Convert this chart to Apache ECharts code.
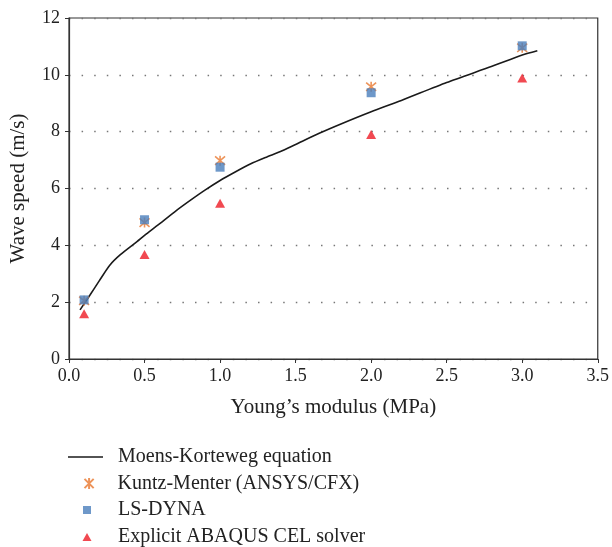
<!DOCTYPE html>
<html>
<head>
<meta charset="utf-8">
<script src="https://cdn.jsdelivr.net/npm/echarts@6/dist/echarts.min.js"></script>
<style>html,body{margin:0;padding:0;background:#fff}#c{width:612px;height:547px}</style>
</head>
<body>
<div id="c"></div>
<script>
const xTicks = [0, 0.5, 1.0, 1.5, 2.0, 2.5, 3.0, 3.5];
const yTicks = [0, 2, 4, 6, 8, 10, 12];
const mkX = [0.073,0.14,0.2,0.27,0.34,0.45,0.5,0.59,0.7,0.8,0.9,1.0,1.1,1.2,1.3,1.4,1.5,1.66,1.8,2.0,2.2,2.5,2.8,3.0,3.1];
const mkY = [1.73,2.26,2.75,3.3,3.67,4.13,4.35,4.72,5.18,5.57,5.94,6.28,6.58,6.86,7.09,7.3,7.55,7.95,8.27,8.7,9.1,9.73,10.3,10.7,10.85];
const simX = [0.1, 0.5, 1.0, 2.0, 3.0];
const kuntzY = [2.05, 4.8, 6.98, 9.58, 10.95];
const lsdynaY = [2.08, 4.9, 6.75, 9.37, 11.02];
const abaqusY = [1.59, 3.68, 5.48, 7.9, 9.89];
const names = ['Moens-Korteweg equation', 'Kuntz-Menter (ANSYS/CFX)', 'LS-DYNA', 'Explicit ABAQUS CEL solver'];

const zip = (xs, ys) => xs.map((x, i) => [x, ys[i]]);
const font = '"Liberation Serif", "DejaVu Serif", serif';
const star = 'path://M0,0L10,10M10,0L0,10M5,-1L5,11';
const legText = pad => ({fontFamily: font, fontSize: 20, lineHeight: 20, color: '#222', padding: [0, 0, 0, pad]});

const chart = echarts.init(document.getElementById('c'), null, {renderer: 'canvas'});
chart.setOption({
  animation: false,
  backgroundColor: '#fff',
  grid: {left: 69, right: 14, top: 18, bottom: 188, show: true, borderColor: '#333', borderWidth: 1.2, backgroundColor: 'transparent'},
  xAxis: {
    type: 'value', min: xTicks[0], max: xTicks[xTicks.length - 1], interval: 0.5,
    name: 'Young\u2019s modulus (MPa)', nameLocation: 'middle', nameGap: 38,
    nameTextStyle: {fontFamily: font, fontSize: 21, color: '#222'},
    axisLine: {lineStyle: {color: '#333', width: 1.2}},
    axisTick: {show: true, length: 4, lineStyle: {color: '#333'}},
    axisLabel: {fontFamily: font, fontSize: 18, color: '#222', margin: 8, formatter: v => v.toFixed(1)},
    splitLine: {show: false}
  },
  yAxis: {
    type: 'value', min: yTicks[0], max: yTicks[yTicks.length - 1], interval: 2,
    name: 'Wave speed (m/s)', nameLocation: 'middle', nameGap: 40,
    nameTextStyle: {fontFamily: font, fontSize: 21, color: '#222'},
    axisLine: {lineStyle: {color: '#333', width: 1.2}},
    axisTick: {show: true, length: 4, lineStyle: {color: '#333'}},
    axisLabel: {fontFamily: font, fontSize: 18, color: '#222', margin: 9},
    splitLine: {show: true, lineStyle: {color: '#777', width: 1.3, type: [1.5, 11.1]}}
  },
  legend: [
    {left: 68, top: 447, padding: 0, itemWidth: 35, itemHeight: 1.6, textStyle: legText(10),
     data: [{name: names[0], icon: 'rect', itemStyle: {color: '#1a1a1a'}}]},
    {left: 82, top: 473.5, padding: 0, itemWidth: 11, itemHeight: 11, textStyle: legText(18),
     data: [{name: names[1]}]},
    {left: 83, top: 500, padding: 0, itemWidth: 8, itemHeight: 8, textStyle: legText(22),
     data: [{name: names[2], icon: 'rect'}]},
    {left: 82.5, top: 527, padding: 0, itemWidth: 9, itemHeight: 8, textStyle: legText(21.5),
     data: [{name: names[3], icon: 'triangle'}]}
  ],
  series: [
    {name: names[0], type: 'line', data: zip(mkX, mkY), symbol: 'none', smooth: 0.25,
     lineStyle: {color: '#1a1a1a', width: 1.6}, itemStyle: {color: '#1a1a1a'}, z: 2},
    {name: names[1], type: 'scatter', data: zip(simX, kuntzY), symbol: star, symbolSize: 10,
     itemStyle: {color: 'none', borderColor: '#E8782F', borderWidth: 1.6}, z: 3},
    {name: names[2], type: 'scatter', data: zip(simX, lsdynaY), symbol: 'rect', symbolSize: 9,
     itemStyle: {color: '#4A7EBB'}, z: 4},
    {name: names[3], type: 'scatter', data: zip(simX, abaqusY), symbol: 'triangle', symbolSize: [10, 9],
     itemStyle: {color: '#EE1C25'}, z: 5}
  ]
});
</script>
</body>
</html>
